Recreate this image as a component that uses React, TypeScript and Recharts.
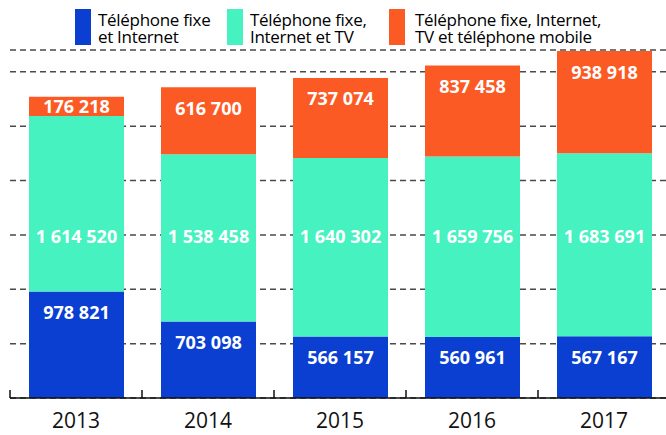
import React from 'react';
import { BarChart, Bar, XAxis, YAxis, CartesianGrid, LabelList } from 'recharts';

const YEARS = ['2013', '2014', '2015', '2016', '2017'];
const FIXE_INTERNET = [978821, 703098, 566157, 560961, 567167];
const FIXE_INTERNET_TV = [1614520, 1538458, 1640302, 1659756, 1683691];
const FIXE_INTERNET_TV_MOBILE = [176218, 616700, 737074, 837458, 938918];

const SERIES_KEYS = ['fi', 'fitv', 'fitvm'];
const SERIES_LABELS = [
  ['Téléphone fixe', 'et Internet'],
  ['Téléphone fixe,', 'Internet et TV'],
  ['Téléphone fixe, Internet,', 'TV et téléphone mobile'],
];
const SERIES_COLORS = ['#0a3fd2', '#46f2c0', '#fc5a25'];

const Y_TICKS = [0, 500000, 1000000, 1500000, 2000000, 2500000, 3000000];
const Y_MAX = 3200000;
const MID_LABEL_LEVEL = 1485000;

const LEGEND_LEFT = [75, 227, 389];

const data = YEARS.map((year, i) => ({
  year,
  fi: FIXE_INTERNET[i],
  fitv: FIXE_INTERNET_TV[i],
  fitvm: FIXE_INTERNET_TV_MOBILE[i],
}));

const FONT = '"Open Sans", "Noto Sans", sans-serif';
const fmt = (n: number) => String(n).replace(/\B(?=(\d{3})+(?!\d))/g, ' ');

const LABEL_SIZE = 18;

const TopLabel = (props: any) => {
  const vb = props.viewBox ?? props;
  const { x, y, width, height } = vb;
  const cy = height < 42 ? y + height / 2 : y + 21;
  return (
    <text
      x={x + width / 2}
      y={cy + LABEL_SIZE * 0.36}
      textAnchor="middle"
      fill="#fff"
      fontFamily={FONT}
      fontWeight={700}
      fontSize={LABEL_SIZE}
    >
      {fmt(Number(props.value))}
    </text>
  );
};

const MidLabel = (props: any) => {
  const vb = props.viewBox ?? props;
  const { x, y, width, height } = vb;
  const value = Number(props.value);
  const below = FIXE_INTERNET[props.index] ?? 0;
  const pxPerUnit = height / value;
  const base = y + height + below * pxPerUnit;
  const cy = base - MID_LABEL_LEVEL * pxPerUnit;
  return (
    <text
      x={x + width / 2}
      y={cy + LABEL_SIZE * 0.36}
      textAnchor="middle"
      fill="#fff"
      fontFamily={FONT}
      fontWeight={700}
      fontSize={LABEL_SIZE}
    >
      {fmt(value)}
    </text>
  );
};

const YearTick = (props: any) => {
  const { x, y, payload } = props;
  const half = payload?.offset ?? 66;
  return (
    <g>
      <line x1={x - half} x2={x - half} y1={y - 8} y2={y} stroke="#111" strokeWidth={1.5} />
      <text
        x={x}
        y={y + 30}
        textAnchor="middle"
        fill="#111"
        fontFamily={FONT}
        fontWeight={500}
        fontSize={21}
      >
        {payload.value}
      </text>
    </g>
  );
};

const Legend = () => (
  <>
    {SERIES_LABELS.map((lines, i) => (
      <div
        key={i}
        style={{
          position: 'absolute',
          left: LEGEND_LEFT[i],
          top: 9,
          display: 'flex',
          alignItems: 'flex-start',
          fontFamily: FONT,
          fontSize: 17,
          lineHeight: '17px',
          color: '#000',
          letterSpacing: -0.3,
        }}
      >
        <div style={{ width: 16, height: 36, background: SERIES_COLORS[i], marginRight: i === 2 ? 10 : 7, flexShrink: 0 }} />
        <div style={{ paddingTop: 2, whiteSpace: 'nowrap' }}>
          {lines[0]}
          <br />
          {lines[1]}
        </div>
      </div>
    ))}
  </>
);

export default function App() {
  return (
    <div
      style={{
        position: 'absolute',
        left: 0,
        top: 0,
        width: 666,
        height: 435,
        overflow: 'hidden',
        background: '#fff',
      }}
    >
      <BarChart
        width={680}
        height={435}
        data={data}
        margin={{ top: 50, right: 10, bottom: 0, left: 10 }}
      >
        <CartesianGrid
          vertical={false}
          stroke="#4a4a4a"
          strokeWidth={1.5}
          strokeDasharray="6 4"
        />
        <YAxis hide domain={[0, Y_MAX]} ticks={Y_TICKS} />
        <XAxis
          dataKey="year"
          height={37}
          tickLine={false}
          tickSize={0}
          tickMargin={0}
          stroke="#111"
          strokeWidth={1.5}
          tick={<YearTick />}
          interval={0}
        />
        <Bar dataKey={SERIES_KEYS[0]} stackId="a" fill={SERIES_COLORS[0]} barSize={95} isAnimationActive={false}>
          <LabelList dataKey={SERIES_KEYS[0]} content={<TopLabel />} />
        </Bar>
        <Bar dataKey={SERIES_KEYS[1]} stackId="a" fill={SERIES_COLORS[1]} barSize={95} isAnimationActive={false}>
          <LabelList dataKey={SERIES_KEYS[1]} content={<MidLabel />} />
        </Bar>
        <Bar dataKey={SERIES_KEYS[2]} stackId="a" fill={SERIES_COLORS[2]} barSize={95} isAnimationActive={false}>
          <LabelList dataKey={SERIES_KEYS[2]} content={<TopLabel />} />
        </Bar>
      </BarChart>
      <Legend />
    </div>
  );
}
